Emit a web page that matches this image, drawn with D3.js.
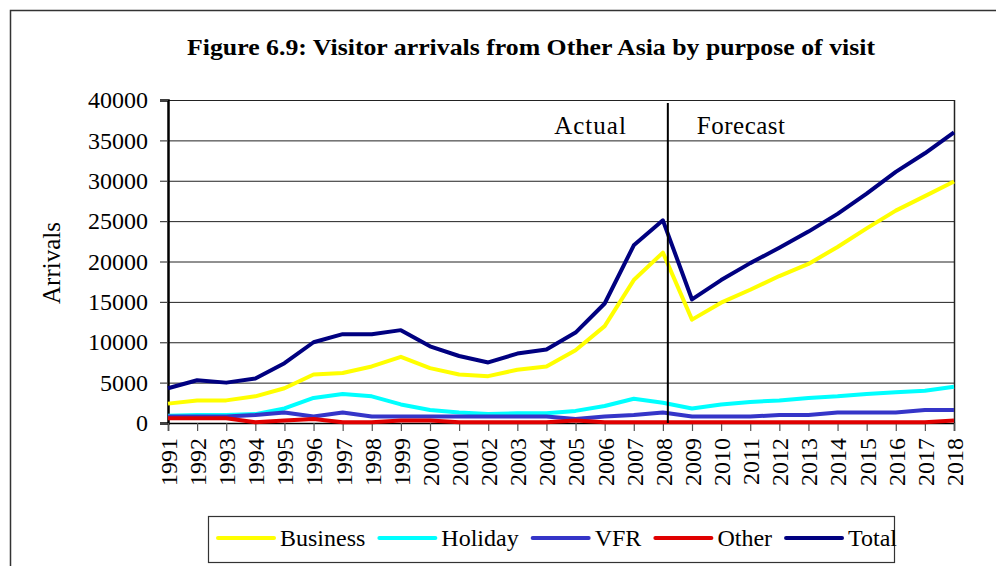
<!DOCTYPE html>
<html>
<head>
<meta charset="utf-8">
<script src="https://cdn.jsdelivr.net/npm/d3@7"></script>
<style>
    body { margin: 0; background: #fff; }
    svg { display: block; }
</style>
</head>
<body>
<svg id="chart"></svg>
<script>
const years = [1991, 1992, 1993, 1994, 1995, 1996, 1997, 1998, 1999, 2000, 2001, 2002, 2003, 2004,
    2005, 2006, 2007, 2008, 2009, 2010, 2011, 2012, 2013, 2014, 2015, 2016, 2017, 2018];

const business = [2400, 2800, 2800, 3300, 4300, 6000, 6200, 7000, 8200, 6800, 6000, 5800, 6600, 7000,
    9000, 12000, 17700, 21100, 12800, 14900, 16500, 18200, 19700, 21800, 24100, 26300, 28100, 29900];
const holiday = [900, 1000, 1000, 1100, 1800, 3100, 3600, 3300, 2300, 1600, 1300, 1100, 1200, 1200,
    1500, 2100, 3000, 2500, 1800, 2300, 2600, 2800, 3100, 3300, 3600, 3800, 4000, 4500];
const vfr = [800, 800, 800, 1000, 1300, 800, 1300, 800, 800, 800, 800, 800, 800, 800,
    500, 800, 1000, 1300, 800, 800, 800, 1000, 1000, 1300, 1300, 1300, 1600, 1600];
const other = [600, 600, 600, 100, 300, 500, 100, 100, 300, 300, 100, 100, 100, 100,
    300, 100, 100, 100, 100, 100, 100, 100, 100, 100, 100, 100, 100, 300];
const total = [4300, 5300, 5000, 5500, 7400, 10000, 11000, 11000, 11500, 9500, 8300, 7500, 8600, 9100,
    11200, 14800, 22000, 25100, 15300, 17700, 19800, 21700, 23700, 25900, 28400, 31100, 33400, 36000];

const seriesNames = ["Business", "Holiday", "VFR", "Other", "Total"];
const seriesValues = [business, holiday, vfr, other, total];
const seriesColors = ["#ffff00", "#00ffff", "#3535c8", "#e00000", "#000080"];

const yTicks = [0, 5000, 10000, 15000, 20000, 25000, 30000, 35000, 40000];
const dividerYear = 2008.17;

const title = "Figure 6.9: Visitor arrivals from Other Asia by purpose of visit";
const yLabel = "Arrivals";

const width = 996;
const height = 566;
const fontFamily = "Liberation Serif";

const plot = { left: 168, right: 954, top: 100, bottom: 423 };

const svg = d3.select("#chart")
    .attr("width", width).attr("height", height)
    .attr("font-family", fontFamily);

// outer frame, runs off the right and bottom edge like in the source
svg.append("rect")
    .attr("x", 10.5).attr("y", 10.5)
    .attr("width", width + 20).attr("height", height + 20)
    .attr("fill", "#fff").attr("stroke", "#333").attr("stroke-width", 1.5);

const scaleX = d3.scaleLinear().domain([years[0], years[years.length - 1]]).range([plot.left, plot.right]);
const scaleY = d3.scaleLinear().domain([0, 40000]).range([plot.bottom, plot.top]);

svg.append("text")
    .attr("x", 531).attr("y", 55)
    .attr("text-anchor", "middle")
    .attr("font-family", fontFamily)
    .attr("font-size", 23).attr("font-weight", "bold")
    .attr("textLength", 688).attr("lengthAdjust", "spacingAndGlyphs")
    .text(title);

// grid lines
svg.append("g").attr("class", "grid")
    .selectAll("line")
    .data(yTicks.filter((d) => d > 0))
    .join("line")
    .attr("x1", plot.left).attr("x2", plot.right)
    .attr("y1", (d) => scaleY(d) + 0.5).attr("y2", (d) => scaleY(d) + 0.5)
    .attr("stroke", "#222").attr("stroke-width", 1);

svg.append("line")
    .attr("x1", plot.right + 0.5).attr("x2", plot.right + 0.5)
    .attr("y1", plot.top).attr("y2", plot.bottom)
    .attr("stroke", "#222").attr("stroke-width", 1.5);

// y axis
const yAxis = d3.axisLeft(scaleY).tickValues(yTicks).tickSize(8).tickPadding(12).tickFormat(d3.format("d"));
const yAxisG = svg.append("g").attr("transform", `translate(${plot.left},0)`).call(yAxis);
yAxisG.attr("font-family", fontFamily);
yAxisG.select(".domain").attr("stroke", "#000").attr("stroke-width", 2.5);
yAxisG.selectAll(".tick line").attr("stroke", "#444").attr("stroke-width", 1.2);
yAxisG.selectAll(".tick text")
    .attr("font-family", fontFamily).attr("font-size", 24).attr("fill", "#000");

// x axis
const xAxis = d3.axisBottom(scaleX).tickValues(years).tickSize(8).tickFormat(d3.format("d"));
const xAxisG = svg.append("g").attr("transform", `translate(0,${plot.bottom})`).call(xAxis);
xAxisG.attr("font-family", fontFamily);
xAxisG.select(".domain").attr("stroke", "#000").attr("stroke-width", 1.5);
xAxisG.selectAll(".tick line").attr("stroke", "#555").attr("stroke-width", 1.2);
xAxisG.selectAll(".tick text")
    .attr("font-family", fontFamily).attr("font-size", 24).attr("fill", "#000")
    .attr("text-anchor", "end")
    .attr("transform", "rotate(-90)")
    .attr("x", -15).attr("y", 0).attr("dy", "0.35em");

svg.append("text")
    .attr("transform", `translate(60,263) rotate(-90)`)
    .attr("text-anchor", "middle")
    .attr("font-family", fontFamily)
    .attr("font-size", 25)
    .text(yLabel);

// lines
const lineGenerator = d3.line()
    .x((d, i) => scaleX(years[i]))
    .y((d) => scaleY(d));

svg.append("g").attr("class", "values")
    .selectAll("path")
    .data(seriesValues)
    .join("path")
    .attr("fill", "none")
    .attr("stroke", (d, i) => seriesColors[i])
    .attr("stroke-width", 4)
    .attr("stroke-linejoin", "round")
    .attr("d", lineGenerator);

// actual / forecast divider
svg.append("line")
    .attr("x1", scaleX(dividerYear)).attr("x2", scaleX(dividerYear))
    .attr("y1", plot.top + 3).attr("y2", plot.bottom)
    .attr("stroke", "#000").attr("stroke-width", 2);

svg.append("text")
    .attr("x", scaleX(dividerYear) - 41).attr("y", 134)
    .attr("text-anchor", "end")
    .attr("font-family", fontFamily).attr("font-size", 25)
    .attr("letter-spacing", 1)
    .text("Actual");
svg.append("text")
    .attr("x", scaleX(dividerYear) + 29).attr("y", 134)
    .attr("font-family", fontFamily).attr("font-size", 25)
    .attr("letter-spacing", 0.5)
    .text("Forecast");

// legend
const legend = svg.append("g").attr("class", "legend");
legend.append("rect")
    .attr("x", 208.5).attr("y", 516.5).attr("width", 686).attr("height", 46)
    .attr("fill", "#fff").attr("stroke", "#333").attr("stroke-width", 1.2);

let legendX = 218;
seriesNames.forEach((name, i) => {
    const item = legend.append("g").attr("transform", `translate(${legendX},538)`);
    item.append("line")
        .attr("x1", 0).attr("x2", 56)
        .attr("stroke", seriesColors[i]).attr("stroke-width", 4).attr("stroke-linecap", "round");
    const label = item.append("text")
        .attr("x", 62).attr("dy", "0.35em")
        .attr("font-family", fontFamily)
        .attr("font-size", 24)
        .text(name);
    legendX += 62 + label.node().getComputedTextLength() + 14;
});
</script>
</body>
</html>
